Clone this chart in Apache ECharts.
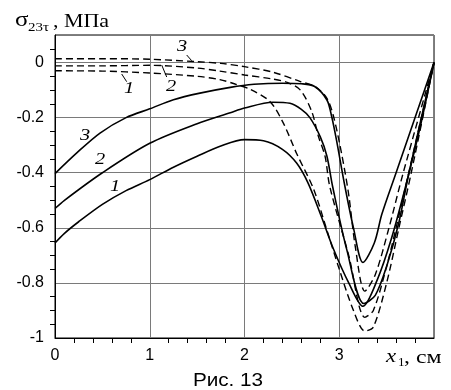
<!DOCTYPE html>
<html>
<head>
<meta charset="utf-8">
<script src="https://cdn.jsdelivr.net/npm/echarts@6/dist/echarts.min.js"></script>
<style>
html,body{margin:0;padding:0;background:#fff;}
#chart{width:451px;height:390px;}
</style>
</head>
<body>
<div id="chart"></div>
<script>
// x ticks (cm) and y ticks (MPa)
const xTicks = [0, 1, 2, 3];
const yTicks = [-1, -0.8, -0.6, -0.4, -0.2, 0];

// Solid curves 1..3
const solid1 = [[0,-0.655],[0.1,-0.62],[0.25,-0.578],[0.5,-0.515],[0.75,-0.465],[1,-0.425],[1.25,-0.38],[1.5,-0.34],[1.75,-0.303],[2,-0.28],[2.2,-0.284],[2.4,-0.315],[2.55,-0.365],[2.67,-0.437],[2.81,-0.558],[2.94,-0.678],[3.1,-0.8],[3.25,-0.885],[3.4,-0.79],[3.55,-0.64],[3.7,-0.45],[3.85,-0.24],[4,0]];
const solid2 = [[0,-0.53],[0.1,-0.5],[0.5,-0.4],[1,-0.293],[1.5,-0.222],[1.85,-0.182],[2,-0.165],[2.3,-0.144],[2.48,-0.148],[2.6,-0.17],[2.69,-0.2],[2.8,-0.27],[2.87,-0.34],[2.93,-0.45],[3.08,-0.68],[3.26,-0.875],[3.38,-0.845],[3.5,-0.74],[3.63,-0.58],[3.73,-0.41],[4,0]];
const solid3 = [[0,-0.403],[0.23,-0.328],[0.475,-0.256],[0.75,-0.2],[1,-0.168],[1.25,-0.135],[1.53,-0.111],[1.85,-0.09],[2.1,-0.079],[2.4,-0.075],[2.6,-0.077],[2.74,-0.087],[2.87,-0.136],[2.92,-0.196],[2.97,-0.28],[3.06,-0.45],[3.15,-0.6],[3.25,-0.726],[3.37,-0.655],[3.45,-0.55],[3.6,-0.4],[4,0]];

// Dashed curves 1..3
const dashed1 = [[0,-0.03],[0.5,-0.031],[1,-0.038],[1.5,-0.05],[1.74,-0.062],[1.9,-0.078],[2.06,-0.097],[2.27,-0.142],[2.41,-0.22],[2.55,-0.33],[2.73,-0.46],[2.88,-0.62],[3.0,-0.75],[3.15,-0.9],[3.27,-0.975],[3.36,-0.96],[3.5,-0.8],[3.63,-0.6],[3.76,-0.4],[4,0]];
const dashed2 = [[0,-0.012],[0.5,-0.012],[1,-0.01],[1.5,-0.02],[1.74,-0.031],[2,-0.045],[2.3,-0.06],[2.45,-0.072],[2.59,-0.1],[2.71,-0.178],[2.78,-0.268],[2.85,-0.34],[2.9,-0.45],[3.1,-0.7],[3.27,-0.925],[3.36,-0.9],[3.5,-0.74],[3.6,-0.6],[3.72,-0.42],[4,0]];
const dashed3 = [[0,0.014],[0.5,0.014],[1,0.012],[1.5,0.003],[1.75,-0.003],[2,-0.015],[2.3,-0.035],[2.59,-0.069],[2.75,-0.088],[2.87,-0.13],[2.94,-0.196],[3.03,-0.34],[3.1,-0.48],[3.17,-0.67],[3.27,-0.83],[3.38,-0.77],[3.52,-0.606],[3.67,-0.407],[4,0]];

const chart = echarts.init(document.getElementById('chart'), null, {renderer:'canvas'});
const axisFont = 'Liberation Sans';
const serif = 'Liberation Serif';

function solid(data){ return {type:'line', data, showSymbol:false, smooth:0.3, lineStyle:{color:'#000', width:1.6}, silent:true, animation:false}; }
function dashed(data){ return {type:'line', data, showSymbol:false, smooth:0.3, lineStyle:{color:'#000', width:1.4, type:[7,4]}, silent:true, animation:false}; }

function txt(x, y, text, font, scaleX, align){
  return {type:'text', x, y, scaleX: scaleX||1, style:{text, font, fill:'#000', align: align||'left', verticalAlign:'middle'}, silent:true};
}
function seg(x1,y1,x2,y2){
  return {type:'line', shape:{x1,y1,x2,y2}, style:{stroke:'#000', lineWidth:1}, silent:true};
}

chart.setOption({
  animation:false,
  backgroundColor:'#fff',
  grid:{left:55, right:17, top:35, bottom:52, show:true, borderColor:'#000', borderWidth:1, backgroundColor:'transparent'},
  xAxis:{type:'value', min:0, max:4, interval:1,
     axisLine:{show:true, onZero:false, lineStyle:{color:'#000', width:1}},
     axisTick:{show:false},
     minorTick:{show:true, splitNumber:5, length:5, lineStyle:{color:'#000', width:1}},
     splitLine:{show:true, lineStyle:{color:'#7a7a7a', width:1}},
     axisLabel:{color:'#000', fontFamily:axisFont, fontSize:16, margin:10,
       formatter:v => xTicks.indexOf(v) >= 0 ? String(v) : ''}},
  yAxis:{type:'value', min:-1, max:0.1, interval:0.2,
     axisLine:{show:true, onZero:false, lineStyle:{color:'#000', width:1}},
     axisTick:{show:false},
     minorTick:{show:true, splitNumber:4, length:5, lineStyle:{color:'#000', width:1}},
     splitLine:{show:true, lineStyle:{color:'#7a7a7a', width:1}},
     axisLabel:{color:'#000', fontFamily:axisFont, fontSize:16, margin:11,
       formatter:v => { const r = Math.round(v*10)/10; return yTicks.indexOf(r) >= 0 ? String(r) : ''; }}},
  series:[
    solid(solid1), solid(solid2), solid(solid3),
    dashed(dashed1), dashed(dashed2), dashed(dashed3)
  ],
  graphic:[
    txt(15, 21, 'σ', '20px ' + serif, 1.25),
    txt(28, 28, '23τ', '13px ' + serif, 1.15),
    txt(53, 22, ', МПа', '18px ' + serif, 1.22),
    txt(386, 357, 'x', 'italic 19px ' + serif, 1.2),
    txt(398, 363, '1', '12px ' + serif, 1.1),
    txt(404, 358, ', см', '19px ' + serif, 1.25),
    txt(228, 381, 'Рис. 13', '18px ' + axisFont, 1.15, 'center'),
    // curve labels (solid)
    txt(85, 136, '3', 'italic 17px ' + serif, 1.2, 'center'),
    txt(100, 160, '2', 'italic 17px ' + serif, 1.2, 'center'),
    txt(115, 187, '1', 'italic 17px ' + serif, 1.2, 'center'),
    // curve labels (dashed) with leaders
    txt(129, 89, '1', 'italic 17px ' + serif, 1.2, 'center'),
    seg(121.7, 74, 126.7, 81.7),
    txt(171, 87, '2', 'italic 17px ' + serif, 1.2, 'center'),
    seg(161.7, 65, 166.7, 77),
    txt(182, 47, '3', 'italic 17px ' + serif, 1.2, 'center'),
    seg(186.7, 55, 191.7, 60.7)
  ]
});
</script>
</body>
</html>
